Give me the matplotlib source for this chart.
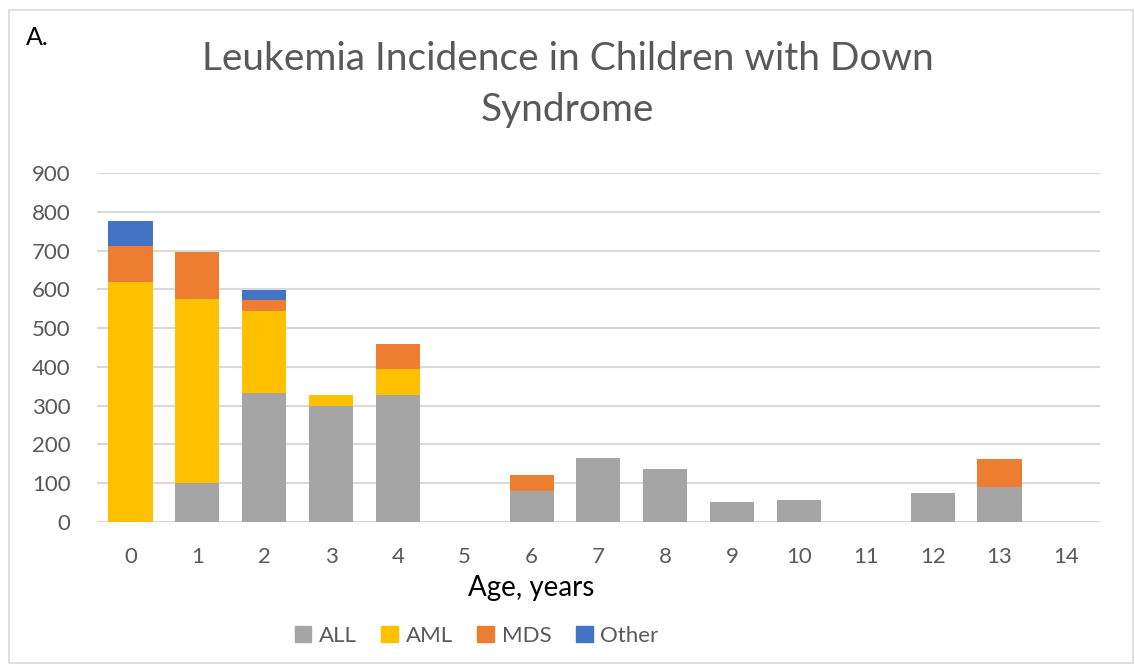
import numpy as np
import matplotlib
matplotlib.use('Agg')
import matplotlib.pyplot as plt
from matplotlib.patches import Patch, Rectangle

ages = list(range(15))
all_vals = [0, 99, 332, 299, 326, 0, 79, 165, 137, 51, 55, 0, 75, 90, 0]
aml_vals = [618, 475, 213, 28, 68, 0, 0, 0, 0, 0, 0, 0, 0, 0, 0]
mds_vals = [93, 123, 28, 0, 66, 0, 41, 0, 0, 0, 0, 0, 0, 71, 0]
other_vals = [66, 0, 26, 0, 0, 0, 0, 0, 0, 0, 0, 0, 0, 0, 0]
series_names = ['ALL', 'AML', 'MDS', 'Other']
y_ticks = [0, 100, 200, 300, 400, 500, 600, 700, 800, 900]

colors = ['#a5a5a5', '#ffc000', '#ed7d31', '#4472c4']
plt.rcParams['font.family'] = ['Lato', 'DejaVu Sans']

fig = plt.figure(figsize=(11.35, 6.65), dpi=100)
ax = fig.add_axes([0.0855, 0.2155, 0.8835, 0.524])

data = [all_vals, aml_vals, mds_vals, other_vals]
bottom = np.zeros(len(ages))
for vals, c in zip(data, colors):
    v = np.array(vals, dtype=float)
    ax.bar(ages, v, bottom=bottom, width=0.66, color=c, zorder=3)
    bottom += v

ax.set_xlim(-0.5, 14.5)
ax.set_ylim(0, 900)
ax.set_yticks(y_ticks)
ax.set_xticks(ages)
ax.grid(axis='y', color='#d9d9d9', lw=1.5, zorder=0)
for s in ax.spines.values():
    s.set_visible(False)
ax.tick_params(length=0, labelsize=16, labelcolor='#595959')
ax.tick_params(axis='y', pad=19)
ax.tick_params(axis='x', pad=18)

# axis title sits left of the plot centre in the original
fig.text(0.468, 0.116, 'Age, years', ha='center', va='center', fontsize=20, color='black')

fig.text(0.5, 0.912, 'Leukemia Incidence in Children with Down', ha='center',
         va='center', fontsize=28, color='#595959')
fig.text(0.5, 0.835, 'Syndrome', ha='center', va='center', fontsize=28, color='#595959')
fig.text(0.023, 0.944, 'A.', fontsize=18, color='black', va='center')

handles = [Patch(color=c) for c in colors]
fig.legend(handles, series_names, loc='center', bbox_to_anchor=(0.42, 0.044), ncol=4,
           frameon=False, fontsize=16, labelcolor='#595959', handlelength=0.75,
           handleheight=0.75, handletextpad=0.35, columnspacing=1.1)

fig.patches.append(Rectangle((0.008, 0.003), 0.990, 0.982, transform=fig.transFigure,
                             fill=False, edgecolor='#d9d9d9', lw=1.2))

plt.savefig('out.png', dpi=100)
